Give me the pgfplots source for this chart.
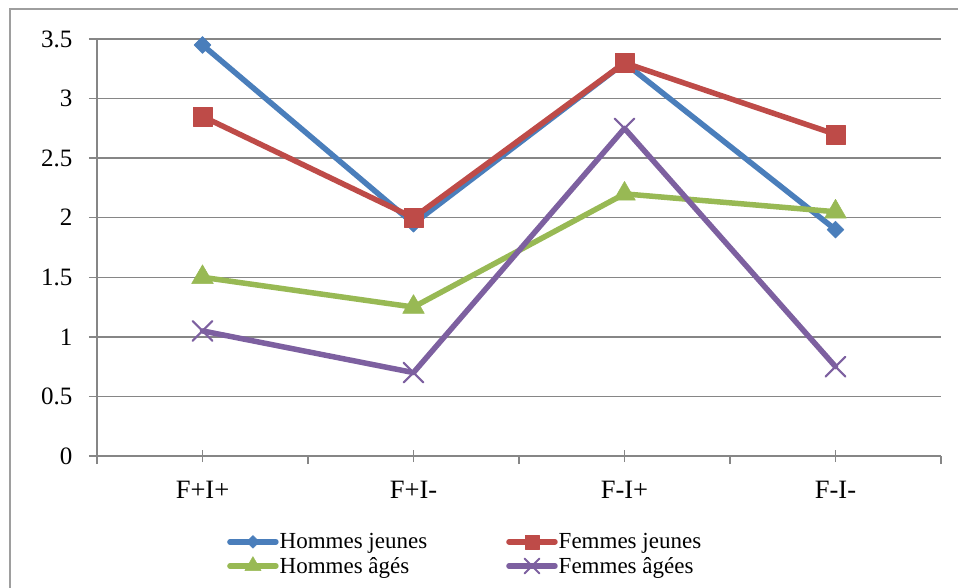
\documentclass[border=0pt]{standalone}
\usepackage{fontspec}
\setmainfont{Liberation Serif}
\usepackage{pgfplots}
\pgfplotsset{compat=1.18}
\definecolor{cblue}{RGB}{74,126,187}
\definecolor{cred}{RGB}{190,75,72}
\definecolor{cgreen}{RGB}{152,185,84}
\definecolor{cpurple}{RGB}{125,96,160}
\definecolor{gridgray}{RGB}{134,134,134}
\begin{document}
\begin{tikzpicture}[x=1pt,y=1pt]
\useasboundingbox (0,0) rectangle (958,587);
\draw[gridgray!80, line width=2.5pt] (10,-20) -- (10,578) -- (990,578);
\begin{axis}[
  at={(97pt,131pt)}, anchor=south west,
  scale only axis, width=844pt, height=417pt,
  xmin=-0.5, xmax=3.5, ymin=0, ymax=3.5,
  axis x line=bottom, axis y line=left,
  axis line style={gridgray, line width=1.3pt, -},
  tick align=outside,
  xtick={-0.5,0.5,1.5,2.5,3.5}, xticklabels={},
  extra x ticks={0,1,2,3},
  extra x tick labels={F+I+,F+I-,F-I+,F-I-},
  extra x tick style={major tick length=12pt, x tick style={yshift=6pt}, grid=none},
  ytick={0,0.5,1,1.5,2,2.5,3,3.5},
  major tick length=8pt,
  tick style={gridgray, line width=1.3pt},
  ymajorgrids, grid style={gridgray, line width=1.3pt},
  /pgf/number format/assume math mode=true,
  yticklabel style={font=\fontsize{25}{25}\selectfont, anchor=east, xshift=-13pt},
  xticklabel style={font=\fontsize{26.5}{26.5}\selectfont, anchor=north, yshift=-10pt},
  legend columns=2,
  legend cell align=left,
  legend style={at={(0.154,-0.183)}, anchor=north west, draw=none, fill=none,
    inner sep=0pt, font=\fontsize{23}{26}\selectfont,
    nodes={inner sep=1pt}, row sep=5pt,
    /tikz/every even column/.append style={column sep=78pt}},
  legend image code/.code={\draw[mark repeat=2,mark phase=2,#1,every mark/.append style={scale=0.75}] plot coordinates {(0pt,0pt) (23pt,0pt) (46pt,0pt)};},
  every axis plot/.append style={line width=5.5pt, line cap=round, line join=round},
]
\addplot[cblue, mark=square*, mark size=6pt, mark options={solid, rotate=45, line width=0.5pt, fill=cblue}] coordinates {(0,3.45) (1,1.95) (2,3.3) (3,1.9)};
\addlegendentry{Hommes jeunes}
\addplot[cred, mark=square*, mark size=9.5pt, mark options={solid, line width=0.5pt, fill=cred}] coordinates {(0,2.85) (1,2.0) (2,3.3) (3,2.7)};
\addlegendentry{Femmes jeunes}
\addplot[cgreen, mark=triangle*, mark size=12.5pt, mark options={solid, line width=0.5pt, fill=cgreen}] coordinates {(0,1.5) (1,1.25) (2,2.2) (3,2.05)};
\addlegendentry{Hommes âgés}
\addplot[cpurple, mark=x, mark size=14pt, mark options={solid, line width=2pt}] coordinates {(0,1.05) (1,0.7) (2,2.75) (3,0.75)};
\addlegendentry{Femmes âgées}
\end{axis}
\end{tikzpicture}
\end{document}
